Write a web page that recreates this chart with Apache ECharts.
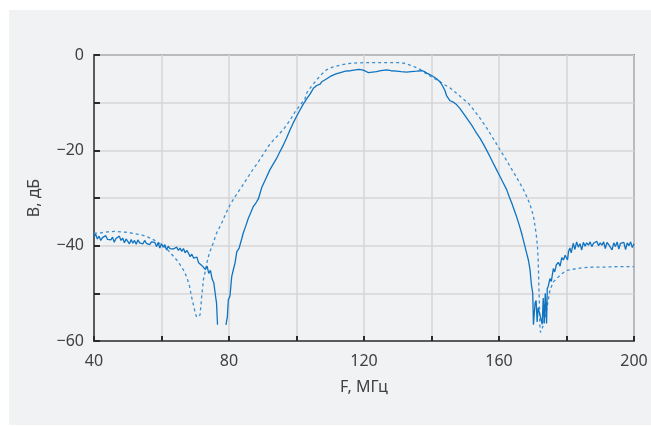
<!DOCTYPE html>
<html>
<head>
<meta charset="utf-8">
<script src="https://cdn.jsdelivr.net/npm/echarts@6/dist/echarts.min.js"></script>
<style>
  html, body { margin: 0; padding: 0; background: #fff; }
  #chart { position: absolute; left: 9px; top: 10px; width: 642px; height: 415px; background: #f1f2f4; }
</style>
</head>
<body>
<div id="chart"></div>
<script>
// measured response, stopband below the passband (MHz, dB)
const measuredLow = [
  [40, -38.2], [40.5, -37.6], [41, -38.6], [41.5, -38.0], [42, -38.9], [42.5, -38.3],
  [43, -38.5], [43.5, -37.9], [44, -38.7], [44.5, -38.4], [45, -38.8], [45.5, -38.2],
  [46, -39.3], [46.5, -38.5], [47, -38.6], [47.5, -38.0], [48, -38.9], [48.5, -38.4],
  [49, -39.4], [49.5, -38.6], [50, -38.8], [50.5, -39.6], [51, -38.7], [51.5, -39.5],
  [52, -38.9], [52.5, -39.7], [53, -38.8], [53.5, -39.4], [54, -39.0], [54.5, -39.6],
  [55, -38.9], [55.5, -39.5], [56, -39.1], [56.5, -39.8], [57, -39.2], [57.5, -39.6],
  [58, -39.3], [58.5, -40.2], [59, -39.4], [59.5, -40.5], [60, -39.6], [60.5, -40.3],
  [61, -39.8], [61.5, -40.9], [62, -40.1], [62.5, -40.6], [63, -40.2], [63.5, -40.7],
  [64, -40.8], [64.5, -40.3], [65, -41.0], [65.5, -40.5], [66, -41.2], [66.5, -40.6],
  [67, -41.5], [67.5, -41.0], [68, -41.6], [68.5, -42.3], [69, -41.8], [69.5, -42.6],
  [70, -43.0], [70.5, -42.4], [71, -43.6], [71.5, -43.2], [72, -44.2], [72.5, -43.8],
  [73, -45.0], [73.5, -44.3], [74, -45.8], [74.5, -45.2], [75, -47.0], [75.5, -47.8],
  [76, -50.5], [76.3, -52.0], [76.6, -56.6]
]

// measured response, passband
const measuredPass = [
  [79.1, -56.6], [79.5, -55.0], [79.8, -51.4], [80.3, -50.5], [80.8, -46.5], [81.3, -45.0],
  [81.8, -43.6], [82.3, -41.3], [83, -40.5], [83.8, -38.5], [84.2, -37.4], [85, -35.8],
  [85.7, -34.3], [86.5, -33.0], [87.2, -31.8], [88, -31.0], [88.7, -30.2], [89.7, -27.8],
  [91, -25.8], [92.1, -24.1], [93, -23.0], [94.1, -21.7], [95, -20.4], [96.1, -18.9],
  [97, -17.5], [98.1, -15.7], [99, -14.3], [100, -12.9], [101, -11.6], [102, -10.3],
  [103, -9.2], [104, -8.2], [105, -7.0], [106, -6.4], [107, -6.1], [107.5, -5.6],
  [108.5, -5.2], [110, -4.5], [111.5, -4.0], [113, -3.7], [114.5, -3.4], [116, -3.3],
  [117.5, -3.1], [118.5, -3.0], [119.5, -3.1], [120.5, -3.4], [121.3, -3.7], [122.5, -3.6],
  [123.7, -3.5], [125, -3.3], [126.7, -3.1], [128, -3.3], [129.7, -3.4], [131, -3.5],
  [132.6, -3.6], [134, -3.5], [135.6, -3.4], [137.1, -3.3], [138, -3.5], [138.6, -3.8],
  [139.5, -4.1], [140.5, -4.5], [141.5, -5.0], [142.5, -5.6], [143.3, -6.5], [144, -7.5],
  [144.5, -8.6], [145, -9.1], [145.5, -9.6], [146.5, -9.9], [147.4, -10.4], [148.4, -11.2],
  [149.4, -12.2], [150.5, -13.3], [151.9, -14.7], [153, -16.0], [154.4, -17.5], [155.3, -18.6],
  [156.3, -19.9], [157.3, -21.3], [158.3, -22.7], [159.3, -24.1], [160.3, -25.5], [161.3, -26.9],
  [162.3, -28.3], [163, -29.7], [163.8, -31.1], [164.5, -32.5], [165.2, -33.9], [166, -35.7],
  [166.7, -37.4], [167.2, -38.8], [167.7, -40.2], [168.2, -41.6], [168.7, -43.0], [169.2, -45.1],
  [169.6, -48.2], [170, -50.0], [170.2, -56.6], [170.5, -56.6], [170.7, -52.0], [171, -51.5],
  [171.3, -56.0], [171.6, -53.0], [172.8, -56.5], [173.1, -51.0], [173.4, -56.3], [173.7, -50.0],
  [174.1, -56.3], [174.3, -49.0], [174.6, -48.5], [175.1, -46.9], [175.5, -47.5], [176.1, -44.8],
  [176.5, -45.5], [177, -44.0], [177.6, -43.5], [178.1, -44.3], [178.6, -42.5], [179.1, -43.0],
  [179.6, -42.0], [180, -41.6], [180.3, -43.0], [180.6, -41.2], [181, -40.5], [181.4, -41.5]
]

// measured response, stopband above the passband
const measuredHigh = [
  [182, -39.5], [182.5, -40.8], [183, -39.2], [183.5, -40.3], [184, -39.6], [184.5, -40.9],
  [185, -39.3], [185.5, -40.1], [186, -39.4], [186.5, -39.9], [187, -39.2], [187.5, -40.2],
  [188, -39.5], [188.5, -39.8], [189, -39.1], [189.5, -40.0], [190, -39.4], [190.5, -39.9],
  [191, -39.2], [191.5, -40.6], [192, -39.3], [192.5, -39.8], [193, -39.5], [193.5, -40.9],
  [194, -39.4], [194.5, -40.2], [195, -39.2], [195.5, -40.7], [196, -39.5], [196.5, -39.9],
  [197, -39.3], [197.5, -40.8], [198, -39.4], [198.5, -40.0], [199, -39.2], [199.5, -40.4],
  [200, -39.6]
]

// simulated response (dashed)
const simulated = [
  [40, -37.4], [42, -37.3], [44, -37.1], [46, -37.0], [48, -37.1], [50, -37.2],
  [52, -37.5], [54, -37.7], [56, -38.2], [58, -38.9], [60, -39.8], [61.5, -40.6],
  [63, -41.8], [64.5, -43.0], [65.5, -44.0], [66.5, -45.1], [67.5, -46.6], [68.3, -48.5],
  [68.9, -50.7], [69.5, -52.5], [69.9, -53.8], [70.4, -55.0], [70.9, -55.3], [71.4, -54.6],
  [71.7, -52.5], [71.9, -50.7], [72.2, -48.8], [72.4, -47.2], [73, -45.3], [73.4, -43.7],
  [74.2, -41.5], [75.3, -39.5], [76.3, -37.4], [77.8, -35.3], [79.3, -32.9], [80.5, -31.2],
  [81.8, -29.7], [83.8, -27.6], [85.7, -25.5], [87.2, -23.9], [88.7, -22.4], [90.2, -20.8],
  [91.6, -19.2], [93.1, -17.9], [94.6, -16.8], [96, -15.7], [97.1, -14.7], [98.5, -13.2],
  [99.6, -11.9], [101, -10.6], [102.5, -9.2], [103, -8.0], [104.5, -6.5], [106, -5.2],
  [107.5, -4.0], [108.9, -3.1], [110.5, -2.6], [113, -2.1], [115.9, -1.75], [118, -1.65],
  [120.8, -1.6], [125, -1.6], [130.7, -1.6], [132.3, -1.8], [133.6, -2.1], [135, -2.5],
  [136.6, -3.0], [137.6, -3.5], [138.6, -4.0], [140.5, -4.8], [142.5, -5.6], [144, -6.3],
  [145.5, -6.9], [147.4, -8.0], [149, -9.0], [150.9, -10.1], [152.6, -11.6], [154.4, -13.3],
  [156, -14.9], [157.3, -16.4], [158.8, -18.1], [160.3, -19.9], [161.8, -21.6], [163.3, -23.4],
  [164.8, -25.2], [166.2, -26.9], [167.3, -28.3], [168.2, -29.7], [169, -31.0], [169.7, -32.5],
  [170.3, -34.2], [170.7, -36.0], [171.1, -38.0], [171.4, -40.2], [171.6, -43.0], [171.7, -45.1],
  [171.8, -48.2], [172, -53.0], [172.1, -56.5], [172.3, -58.2], [172.6, -57.8], [173.1, -56.8],
  [174.1, -53.5], [175.1, -49.3], [176.1, -47.6], [177.1, -46.9], [178.6, -45.9], [180, -45.2],
  [181.5, -45.0], [183, -44.8], [185, -44.6], [188, -44.5], [191, -44.5], [195, -44.4],
  [200, -44.4]
]

const xLabelStep = 40
const yLabelStep = 20

const chart = echarts.init(document.getElementById('chart'))

const font = "'Noto Sans', 'Open Sans', sans-serif"
const minus = v => (v < 0 ? '\u2212' + Math.abs(v) : String(v))

chart.setOption({
  animation: false,
  grid: {
    left: 85,
    right: 17,
    top: 45,
    bottom: 84,
    show: true,
    borderColor: '#3c3c3c',
    borderWidth: 1.5,
    backgroundColor: 'transparent'
  },
  xAxis: {
    type: 'value',
    min: 40,
    max: 200,
    interval: 20,
    name: 'F, МГц',
    nameLocation: 'middle',
    nameGap: 38,
    nameTextStyle: { color: '#404040', fontSize: 16, fontFamily: font },
    axisLine: { show: true, onZero: false, lineStyle: { color: '#3c3c3c', width: 1.5 } },
    axisTick: { show: true, inside: true, length: 5, lineStyle: { color: '#2a2a2a', width: 2 } },
    axisLabel: {
      color: '#404040',
      fontSize: 16,
      fontFamily: font,
      margin: 12,
      formatter: v => (v % xLabelStep === 0 ? String(v) : '')
    },
    splitLine: { show: true, lineStyle: { color: '#d6d6d8', width: 1.5 } }
  },
  yAxis: {
    type: 'value',
    min: -60,
    max: 0,
    interval: 10,
    name: 'В, дБ',
    nameLocation: 'middle',
    nameGap: 52,
    nameTextStyle: { color: '#404040', fontSize: 16, fontFamily: font },
    axisLine: { show: true, onZero: false, lineStyle: { color: '#3c3c3c', width: 1.5 } },
    axisTick: { show: true, inside: true, length: 6, lineStyle: { color: '#2a2a2a', width: 2 } },
    axisLabel: {
      color: '#404040',
      fontSize: 16,
      fontFamily: font,
      margin: 10,
      formatter: v => (v % yLabelStep === 0 ? minus(v) : '')
    },
    splitLine: { show: true, lineStyle: { color: '#d6d6d8', width: 1.5 } }
  },
  series: [
    {
      name: 'simulated',
      type: 'line',
      showSymbol: false,
      data: simulated,
      lineStyle: { color: '#3a8fd3', width: 1.3, type: [3, 3] },
      z: 2
    },
    {
      name: 'measured',
      type: 'line',
      showSymbol: false,
      connectNulls: false,
      data: measuredLow.concat([[77.8, '-']], measuredPass, measuredHigh),
      lineStyle: { color: '#0f73c0', width: 1.3 },
      z: 3
    }
  ]
})
</script>
</body>
</html>
